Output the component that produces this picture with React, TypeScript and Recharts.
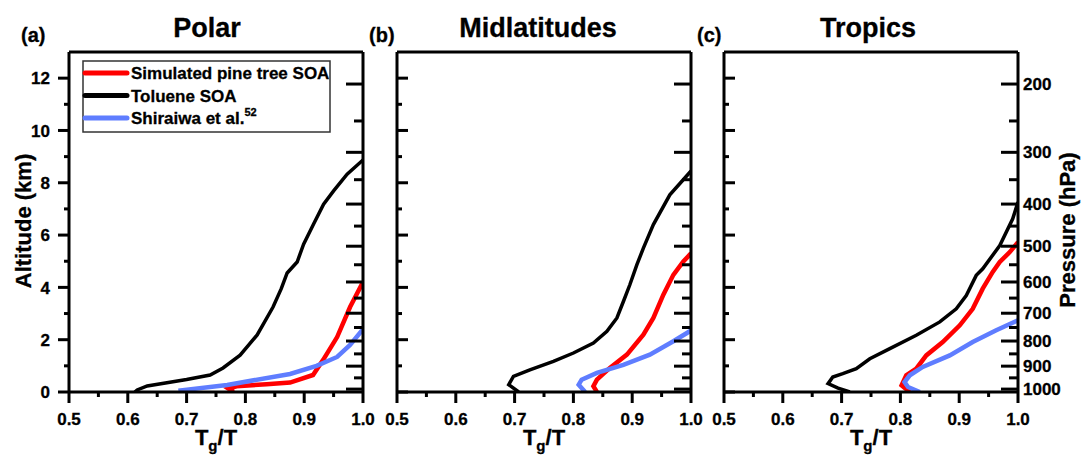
import { LineChart, Line, XAxis, YAxis, ReferenceLine } from 'recharts';

const FONT = '"Liberation Sans", Arial, Helvetica, sans-serif';
const RED = '#ff0000';
const BLACK = '#000000';
const BLUE = '#5f7dff';

// axis ticks
const X_TICKS = [0.5, 0.55, 0.6, 0.65, 0.7, 0.75, 0.8, 0.85, 0.9, 0.95, 1.0];
const ALT_TICKS = [0, 1, 2, 3, 4, 5, 6, 7, 8, 9, 10, 11, 12];
const PRESSURE_TICKS = [200, 250, 300, 350, 400, 450, 500, 550, 600, 650, 700, 750, 800, 850, 900, 950, 1000];

// standard atmosphere, hPa -> km
const pressureToAlt = (p: number) => 44.3308 * (1 - Math.pow(p / 1013.25, 0.190263));
const RIGHT_TICKS = PRESSURE_TICKS.map(pressureToAlt);

// [Tg/T, altitude km]
const polarPine = [[0.78, 0], [0.771, 0.13], [0.785, 0.22], [0.836, 0.3], [0.876, 0.36], [0.915, 0.65], [0.932, 1.22], [0.956, 2.1], [0.978, 3.25], [1.0, 4.2]];
const polarToluene = [[0.612, 0], [0.616, 0.08], [0.633, 0.23], [0.7, 0.48], [0.74, 0.65], [0.762, 0.92], [0.791, 1.41], [0.82, 2.18], [0.847, 3.25], [0.861, 3.95], [0.871, 4.55], [0.888, 4.97], [0.899, 5.65], [0.916, 6.42], [0.933, 7.18], [0.95, 7.69], [0.973, 8.33], [1.0, 8.87]];
const polarShiraiwa = [[0.686, 0.05], [0.769, 0.27], [0.876, 0.69], [0.921, 1.0], [0.956, 1.34], [0.978, 1.8], [1.0, 2.4]];

const midPine = [[0.84, 0], [0.834, 0.22], [0.84, 0.47], [0.862, 0.92], [0.891, 1.43], [0.919, 2.19], [0.936, 2.83], [0.953, 3.72], [0.97, 4.48], [0.987, 4.99], [1.0, 5.3]];
const midToluene = [[0.707, 0], [0.69, 0.28], [0.698, 0.6], [0.726, 0.85], [0.766, 1.17], [0.8, 1.49], [0.834, 1.87], [0.857, 2.32], [0.874, 2.83], [0.885, 3.46], [0.896, 4.1], [0.908, 4.87], [0.919, 5.5], [0.936, 6.4], [0.964, 7.54], [1.0, 8.45]];
const midShiraiwa = [[0.82, 0], [0.809, 0.28], [0.814, 0.47], [0.84, 0.73], [0.885, 1.04], [0.93, 1.43], [0.97, 1.94], [1.0, 2.35]];

const tropPine = [[0.816, 0], [0.802, 0.25], [0.81, 0.64], [0.827, 0.89], [0.844, 1.4], [0.872, 1.91], [0.901, 2.55], [0.923, 3.18], [0.94, 3.95], [0.957, 4.59], [0.969, 4.97], [0.986, 5.35], [1.0, 5.73]];
const tropToluene = [[0.714, 0], [0.694, 0.15], [0.677, 0.32], [0.685, 0.57], [0.702, 0.7], [0.725, 0.89], [0.748, 1.27], [0.782, 1.66], [0.827, 2.17], [0.867, 2.68], [0.895, 3.18], [0.912, 3.69], [0.929, 4.46], [0.94, 4.71], [0.969, 5.6], [0.991, 6.62], [1.0, 7.26]];
const tropShiraiwa = [[0.833, 0], [0.813, 0.19], [0.807, 0.38], [0.816, 0.64], [0.838, 0.96], [0.884, 1.4], [0.923, 1.91], [0.963, 2.36], [1.0, 2.74]];

const toPoints = (arr: number[][]) => arr.map(([x, y]) => ({ x, y }));

function XTick({ x, y, payload }: any) {
  const major = Math.round(payload.value * 100) % 10 === 0;
  return (
    <g>
      <line x1={x} x2={x} y1={y} y2={y + (major ? 11 : 5)} stroke="#000" strokeWidth={3} />
      {major && (
        <text x={x} y={y + 33} textAnchor="middle" fontSize={17} fontWeight="bold" fontFamily={FONT} fill="#000" stroke="#000" strokeWidth={0.3}>
          {payload.value.toFixed(1)}
        </text>
      )}
    </g>
  );
}

const makeLeftTick = (outward: boolean, labels: boolean) =>
  function LeftTick({ x, y, payload }: any) {
    const major = payload.value % 2 === 0;
    const len = major ? 11 : 5;
    const x2 = outward ? x - len : x + len;
    return (
      <g>
        <line x1={x} x2={x2} y1={y} y2={y} stroke="#000" strokeWidth={3} />
        {labels && major && (
          <text x={x - 19} y={y} dy="0.36em" textAnchor="end" fontSize={17} fontWeight="bold" fontFamily={FONT} fill="#000" stroke="#000" strokeWidth={0.3}>
            {payload.value}
          </text>
        )}
      </g>
    );
  };

const makeRightTick = (labels: boolean) =>
  function RightTick({ x, y, payload }: any) {
    const idx = RIGHT_TICKS.findIndex((a) => Math.abs(a - payload.value) < 1e-6);
    const p = PRESSURE_TICKS[idx];
    const major = p % 100 === 0;
    return (
      <g>
        <line x1={x} x2={x - (major ? 17 : 9)} y1={y} y2={y} stroke="#000" strokeWidth={3} />
        {labels && major && (
          <text x={x + 5} y={y} dy="0.36em" textAnchor="start" fontSize={17} fontWeight="bold" fontFamily={FONT} fill="#000" stroke="#000" strokeWidth={0.3}>
            {p}
          </text>
        )}
      </g>
    );
  };

interface PanelProps {
  left: number;
  width: number;
  leftW: number;
  rightW: number;
  pine: number[][];
  toluene: number[][];
  shiraiwa: number[][];
  leftOut: boolean;
  leftLabels: boolean;
  rightLabels: boolean;
}

function Panel(p: PanelProps) {
  return (
    <div style={{ position: 'absolute', left: p.left, top: 0 }}>
      <LineChart width={p.width} height={455} margin={{ top: 52, right: 0, bottom: 0, left: 0 }}>
        <XAxis
          type="number"
          dataKey="x"
          domain={[0.5, 1]}
          ticks={X_TICKS}
          interval={0}
          allowDataOverflow
          height={63}
          tickSize={0}
          tickMargin={0}
          tickLine={false}
          axisLine={{ stroke: '#000', strokeWidth: 3 }}
          tick={<XTick />}
        />
        <YAxis
          yAxisId="left"
          type="number"
          domain={[0, 13]}
          ticks={ALT_TICKS}
          interval={0}
          allowDataOverflow
          width={p.leftW}
          tickSize={0}
          tickMargin={0}
          tickLine={false}
          axisLine={{ stroke: '#000', strokeWidth: 3 }}
          tick={makeLeftTick(p.leftOut, p.leftLabels)}
        />
        <YAxis
          yAxisId="right"
          orientation="right"
          type="number"
          domain={[0, 13]}
          ticks={RIGHT_TICKS}
          interval={0}
          allowDataOverflow
          width={p.rightW}
          tickSize={0}
          tickMargin={0}
          tickLine={false}
          axisLine={{ stroke: '#000', strokeWidth: 3 }}
          tick={makeRightTick(p.rightLabels)}
        />
        <ReferenceLine yAxisId="left" y={13} stroke="#000" strokeWidth={3} />
        <Line yAxisId="left" data={toPoints(p.toluene)} dataKey="y" stroke={BLACK} strokeWidth={3.5} dot={false} isAnimationActive={false} />
        <Line yAxisId="left" data={toPoints(p.pine)} dataKey="y" stroke={RED} strokeWidth={4.5} dot={false} isAnimationActive={false} />
        <Line yAxisId="left" data={toPoints(p.shiraiwa)} dataKey="y" stroke={BLUE} strokeWidth={4.5} dot={false} isAnimationActive={false} />
      </LineChart>
    </div>
  );
}

const TITLES = ['Polar', 'Midlatitudes', 'Tropics'];
const LETTERS = ['(a)', '(b)', '(c)'];
const LEGEND = [
  { label: 'Simulated pine tree SOA', color: RED },
  { label: 'Toluene SOA', color: BLACK },
  { label: 'Shiraiwa et al.', color: BLUE, sup: '52' },
];

export default function App() {
  const centers = [216, 544, 871];
  const titleX = [207, 538, 868];
  const letterX = [21, 369, 697];
  return (
    <div style={{ position: 'absolute', left: 0, top: 0, width: 1081, height: 455, background: '#fff', fontFamily: FONT }}>
      <Panel left={0} width={380} leftW={69} rightW={17} pine={polarPine} toluene={polarToluene} shiraiwa={polarShiraiwa} leftOut leftLabels rightLabels={false} />
      <Panel left={380} width={330} leftW={17} rightW={19} pine={midPine} toluene={midToluene} shiraiwa={midShiraiwa} leftOut={false} leftLabels={false} rightLabels={false} />
      <Panel left={710} width={371} leftW={14} rightW={63} pine={tropPine} toluene={tropToluene} shiraiwa={tropShiraiwa} leftOut={false} leftLabels={false} rightLabels />
      <svg width={1081} height={455} style={{ position: 'absolute', left: 0, top: 0, pointerEvents: 'none' }}>
        <g fontFamily={FONT} fontWeight="bold" fill="#000" stroke="#000" strokeWidth={0.3}>
          {TITLES.map((t, i) => (
            <text key={t} x={titleX[i]} y={37} textAnchor="middle" fontSize={27}>{t}</text>
          ))}
          {LETTERS.map((t, i) => (
            <text key={t} x={letterX[i]} y={42} fontSize={20}>{t}</text>
          ))}
          {centers.map((c) => (
            <text key={c} x={c} y={445} textAnchor="middle" fontSize={22}>
              T<tspan fontSize={15} dy={6}>g</tspan><tspan dy={-6}>/T</tspan>
            </text>
          ))}
          <text x={23} y={221} transform="rotate(-90 23 221)" textAnchor="middle" dominantBaseline="central" fontSize={22}>Altitude (km)</text>
          <text x={1067} y={230} transform="rotate(-90 1067 230)" textAnchor="middle" dominantBaseline="central" fontSize={22}>Pressure (hPa)</text>
        </g>
        <rect x={83} y={61} width={247} height={71} fill="#fff" stroke="#333" strokeWidth={1.5} />
        {LEGEND.map((l, i) => {
          const cy = 73 + i * 22.5;
          return (
            <g key={l.label}>
              <line x1={85} x2={127} y1={cy} y2={cy} stroke={l.color} strokeWidth={5} strokeLinecap="round" />
              <text x={131} y={cy + 6} fontSize={17} fontWeight="bold" fontFamily={FONT} fill="#000" stroke="#000" strokeWidth={0.3}>
                {l.label}
                {l.sup && <tspan fontSize={11} dy={-8}>{l.sup}</tspan>}
              </text>
            </g>
          );
        })}
      </svg>
    </div>
  );
}
